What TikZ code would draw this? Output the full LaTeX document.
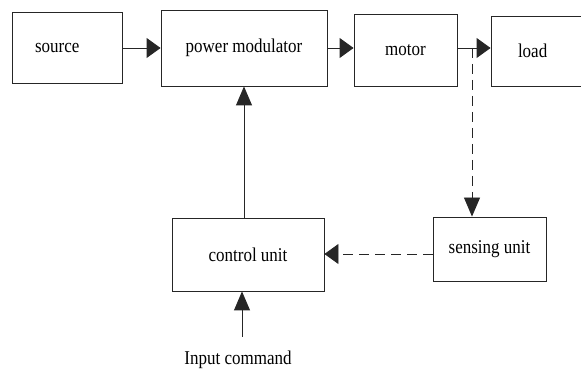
\documentclass[tikz,border=0pt]{standalone}
\usepackage{fontspec}
\setmainfont{Liberation Serif}
\usetikzlibrary{arrows.meta}
\newcommand{\stx}[1]{\scalebox{1}[1.15]{#1}}
\begin{document}
\begin{tikzpicture}[x=1pt,y=-1pt,
  font=\fontsize{17}{20}\selectfont,
  blk/.style={draw=black!85, line width=0.9pt, rectangle, inner sep=0pt},
  conn/.style={draw=black!85, line width=0.9pt},
  htip/.style={-{Triangle[length=14pt,width=20pt]}},
  vtip/.style={-{Triangle[length=19pt,width=16pt]}},
  dsh/.style={dash pattern=on 10pt off 6pt}]
\useasboundingbox (0,0) rectangle (581,371);
\fill[white] (0,0) rectangle (581,371);
\node[blk, minimum width=110pt, minimum height=71pt, text width=64pt, inner xsep=23pt, align=left] (source) at (67,47.5) {\stx{source}};
\node[blk, minimum width=166pt, minimum height=76pt] (pm) at (244,48) {\stx{power modulator}};
\node[blk, minimum width=103pt, minimum height=72pt] (motor) at (405.5,50) {\stx{motor}};
\node[blk, minimum width=120pt, minimum height=70pt, text width=66pt, inner xsep=27pt, align=left] (load) at (551,51) {\stx{load}};
\node[blk, minimum width=152pt, minimum height=73pt] (control) at (248,254.5) {\stx{control unit}};
\node[blk, minimum width=113pt, minimum height=64pt] (sensing) at (489.5,249) {\stx{sensing unit}};
\node[inner sep=0pt] (cmd) at (238,360) {\stx{Input command}};
\coordinate (ay) at (0,48);
\coordinate (fb) at (0,254);
\coordinate (tap) at (472,48);
\coordinate (cmdtop) at (242,337);
\draw[conn, htip] (source.east |- ay) -- (pm.west |- ay);
\draw[conn, htip] (pm.east |- ay) -- (motor.west |- ay);
\draw[conn, htip] (motor.east |- ay) -- (load.west |- ay);
\draw[conn, vtip, dsh] (tap) -- (tap |- sensing.north);
\draw[conn, htip, dsh] (sensing.west |- fb) -- (control.east |- fb);
\draw[conn, vtip] (pm.south |- control.north) -- (pm.south);
\draw[conn, vtip] (cmdtop) -- (cmdtop |- control.south);
\end{tikzpicture}
\end{document}
